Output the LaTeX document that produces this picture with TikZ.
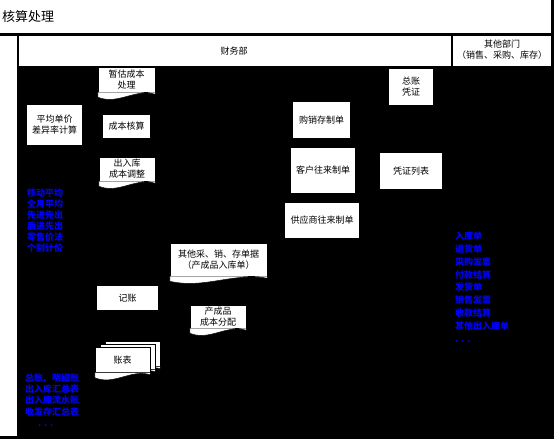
\documentclass[tikz,border=0pt]{standalone}
\usepackage{fontspec}
\setmainfont{Noto Sans CJK SC}
\usetikzlibrary{calc}
\newcommand{\docwave}[1]{\filldraw[white,draw=black,line width=0.4pt] (#1.south west) -- ($(#1.south west)+(0,5)$) .. controls ($(#1.south west)!.35!(#1.south east)+(0,13)$) and ($(#1.south west)!.65!(#1.south east)+(0,-4)$) .. ($(#1.south east)+(0,2)$) -- (#1.south east) -- cycle;}

\begin{document}
\begin{tikzpicture}[x=1pt,y=-1pt,
  box/.style={fill=white,inner sep=0pt,align=center,font=\fontsize{9}{11}\selectfont},
  doc/.style={box,draw=black,line width=0.4pt},
  lst/.style={blue,anchor=west,align=left,inner sep=0pt,font=\bfseries\fontsize{9}{#1}\selectfont}]
\useasboundingbox (0,0) rectangle (554,439);
\fill[black] (0,0) rectangle (554,439);
\fill[white] (0,0) rectangle (551,33);
\fill[white] (0,36) rectangle (17,436);
\fill[white] (19,36) rectangle (451,66);
\fill[white] (453,36) rectangle (551,66);
\node[anchor=west,inner sep=0pt,font=\fontsize{13}{13}\selectfont] (title) at (2,17) {核算处理};
\node[box,fill=none] (caiwu) at (234,51) {财务部};
\node[box,fill=none] (qita) at (502,50) {其他部门\\（销售、采购、库存）};
% 财务部
\node[doc,minimum width=57,minimum height=25] (zangu) at (126.5,79.5) {暂估成本\\处理};
\docwave{zangu}
\node[box,minimum width=55,minimum height=40] (pingjun) at (54.5,125) {平均单价\\差异率计算};
\node[box,minimum width=47,minimum height=23] (hesuan) at (126.5,126.5) {成本核算};
\node[doc,minimum width=56,minimum height=24] (tiaozheng) at (127,169) {出入库\\成本调整};
\docwave{tiaozheng}
\node[doc,minimum width=97,minimum height=33] (danju) at (218.5,259.5) {其他采、销、存单据\\（产成品入库单）};
\docwave{danju}
\node[box,minimum width=61,minimum height=24] (jizhang) at (127.5,298) {记账};
\node[doc,minimum width=56,minimum height=23] (fenpei) at (218,316.5) {产成品\\成本分配};
\docwave{fenpei}
\node[doc,minimum width=55,minimum height=25] (zb3) at (132.5,354) {};
\docwave{zb3}
\node[doc,minimum width=55,minimum height=25] (zb2) at (127.5,357) {};
\docwave{zb2}
\node[doc,minimum width=55,minimum height=25] (zhangbiao) at (122.5,360) {账表};
\docwave{zhangbiao}
\node[box,minimum width=44,minimum height=36] (zongzhang) at (411,87) {总账\\凭证};
\node[box,minimum width=57,minimum height=36] (gouxiao) at (321.5,120) {购销存制单};
\node[box,minimum width=64,minimum height=45] (kehu) at (323,170.5) {客户往来制单};
\node[box,minimum width=62,minimum height=36] (pingzheng) at (411,171) {凭证列表};
\node[box,minimum width=74,minimum height=35] (gongying) at (322,220.5) {供应商往来制单};
% 说明
\node[lst=11.1] (fangfa) at (27,220.4) {移动平均\\全月平均\\先进先出\\后进先出\\零售价法\\个别计价};
\node[lst=11.4] (baobiao) at (25,400) {总账、明细账\\出入库汇总表\\出入库流水账\\收发存汇总表\\\hspace{13pt}. . .};
\node[lst=12.8] (danlei) at (455,287) {入库单\\退货单\\采购发票\\付款结算\\发货单\\销售发票\\收款结算\\其他出入库单\\. . .};
\end{tikzpicture}
\end{document}
